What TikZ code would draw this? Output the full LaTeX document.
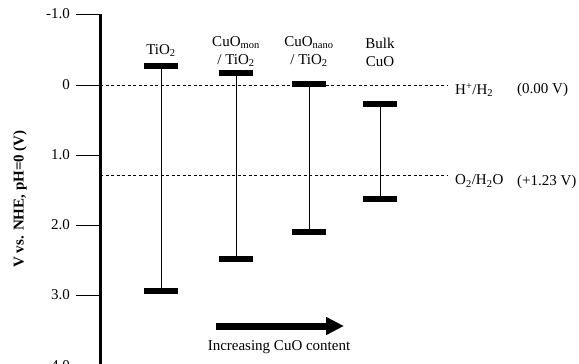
\documentclass[tikz,border=0pt]{standalone}
\usepackage{fontspec}
\setmainfont{Liberation Serif}
\usepackage{tikz}
\usetikzlibrary{arrows.meta}

\begin{document}
\begin{tikzpicture}[x=1pt,y=-1pt,
	bar/.style={fill=black,minimum width=34pt,minimum height=6pt,inner sep=0pt},
	lbl/.style={font=\fontsize{15}{18}\selectfont,align=center,anchor=base,inner sep=0pt},
	tick/.style={line width=0.9pt}]
	
	\clip (0,0) rectangle (579,364);
	
	%Axis and ticks
	\coordinate (axTop) at (100,14);
	\coordinate (axBot) at (100,370);
	\draw[line width=3pt] (axTop) -- (axBot);
	\foreach \v/\y in {-1.0/14,0/85,1.0/155,2.0/225,3.0/295,4.0/366}{
		\coordinate (t\y) at (76,\y);
		\coordinate (a\y) at (100,\y);
		\draw[tick] (t\y) -- (a\y);
		\node[lbl,anchor=east] at (70,\y) {\v};
	}
	\node[font=\fontsize{15}{18}\selectfont\bfseries,rotate=90] (ylab) at (20,199) {V vs. NHE, pH=0 (V)};
	
	%Redox levels
	\coordinate (Hend) at (447,85);
	\coordinate (Ostart) at (100,175);
	\coordinate (Oend) at (447,175);
	\draw[dashed,dash pattern=on 3pt off 2.5pt,line width=0.8pt] (a85) -- (Hend);
	\draw[dashed,dash pattern=on 3pt off 2.5pt,line width=0.8pt] (Ostart) -- (Oend);
	\node[lbl,anchor=west] (HH) at (455,90) {H\textsuperscript{+}/H\textsubscript{2}};
	\node[lbl,anchor=west] (HHv) at (517,90) {(0.00 V)};
	\node[lbl,anchor=west] (OH) at (455,181) {O\textsubscript{2}/H\textsubscript{2}O};
	\node[lbl,anchor=west] (OHv) at (517,182) {(+1.23 V)};
	
	%Band edges
	\node[bar] (tiCB) at (161,66) {};
	\node[bar] (tiVB) at (161,291) {};
	\node[bar] (monCB) at (236,73) {};
	\node[bar] (monVB) at (236,259) {};
	\node[bar] (nanoCB) at (309,84) {};
	\node[bar] (nanoVB) at (309,232) {};
	\node[bar] (bulkCB) at (380,104) {};
	\node[bar] (bulkVB) at (380,199) {};
	\draw[line width=0.9pt] (tiCB) -- (tiVB);
	\draw[line width=0.9pt] (monCB) -- (monVB);
	\draw[line width=0.9pt] (nanoCB) -- (nanoVB);
	\draw[line width=0.9pt] (bulkCB) -- (bulkVB);
	
	%Material labels
	\node[lbl] (tiL) at (161,54) {TiO\textsubscript{2}};
	\node[lbl] (monL) at (236,64) {CuO\textsubscript{mon}\\/ TiO\textsubscript{2}};
	\node[lbl] (nanoL) at (309,64) {CuO\textsubscript{nano}\\/ TiO\textsubscript{2}};
	\node[lbl] (bulkL) at (380,66) {Bulk\\CuO};
	
	%Trend arrow
	\coordinate (arrS) at (216,326);
	\coordinate (arrE) at (344,326);
	\draw[line width=7pt,-{Triangle[length=18pt,width=17pt]}] (arrS) -- (arrE);
	\node[lbl] (trend) at (279,350) {Increasing CuO content};
	
\end{tikzpicture}
\end{document}
